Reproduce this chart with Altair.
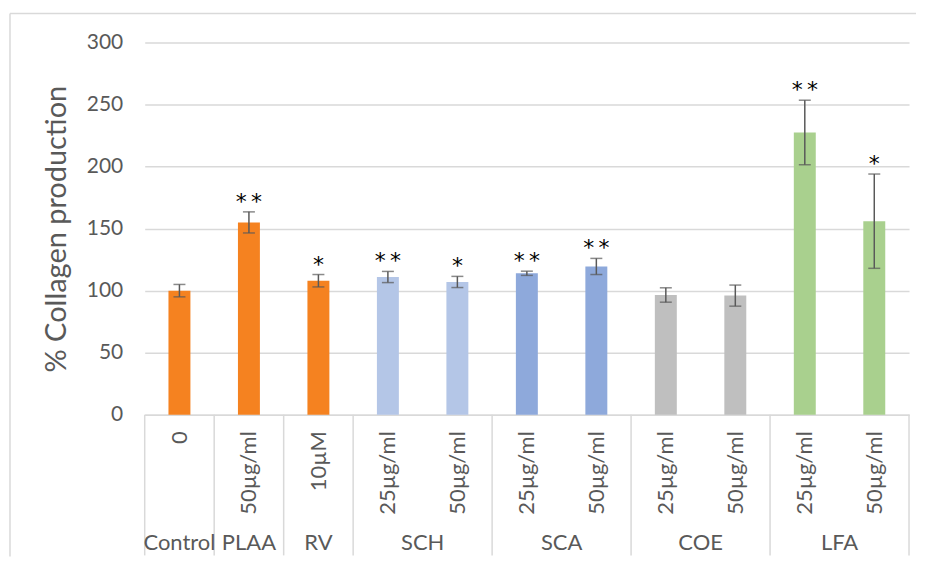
import json
import altair as alt
import pandas as pd

# ---- data ----
groups = ["Control", "PLAA", "RV", "SCH", "SCH", "SCA", "SCA", "COE", "COE", "LFA", "LFA"]
sublabels = ["0", "50µg/ml", "10µM", "25µg/ml", "50µg/ml", "25µg/ml", "50µg/ml",
             "25µg/ml", "50µg/ml", "25µg/ml", "50µg/ml"]
values = [100, 155, 108, 111, 107, 114, 119.5, 96.5, 96, 227.5, 156]
errors = [5, 8.5, 5, 4.5, 4.5, 1.7, 6.5, 5.8, 8.5, 26, 38]
stars = ["", "*\u2009*", "*", "*\u2009*", "*", "*\u2009*", "*\u2009*", "", "", "*\u2009*", "*"]
colors = ["#F58220", "#F58220", "#F58220", "#B4C6E7", "#B4C6E7", "#8EA9DB", "#8EA9DB",
          "#BFBFBF", "#BFBFBF", "#A9D08E", "#A9D08E"]
group_names = ["Control", "PLAA", "RV", "SCH", "SCA", "COE", "LFA"]
y_ticks = [0, 50, 100, 150, 200, 250, 300]

W, H = 766, 373
GRAY = "#595959"
LINE = "#D9D9D9"
FONT = "Lato"

n = len(values)
df = pd.DataFrame({
    "pos": [i + 0.5 for i in range(n)],
    "val": values,
    "lo": [v - e for v, e in zip(values, errors)],
    "hi": [v + e for v, e in zip(values, errors)],
    "star": stars,
    "color": colors,
})

gpos = {}
for i, g in enumerate(groups):
    gpos.setdefault(g, []).append(i)
gdf = pd.DataFrame({
    "pos": [(min(gpos[g]) + max(gpos[g]) + 1) / 2 for g in group_names],
    "name": group_names,
})
bounds = sorted({min(gpos[g]) for g in group_names} | {n})
bdf = pd.DataFrame({"pos": bounds})

xscale = alt.Scale(domain=[0, n], nice=False, zero=False, padding=0)
yscale = alt.Scale(domain=[0, 300], nice=False)

label_expr = json.dumps(sublabels) + "[floor(datum.value)]"

xaxis = alt.Axis(
    values=[i + 0.5 for i in range(n)], labelExpr=label_expr,
    labelAngle=270, labelAlign="right", labelBaseline="middle",
    labelPadding=16, ticks=False, tickSize=0, grid=False, title=None,
    domainColor=LINE, domainWidth=1.5, labelOverlap=False, labelFlush=False,
    labelFontSize=22, labelColor=GRAY, labelFont=FONT)
yaxis = alt.Axis(
    values=y_ticks, title="% Collagen production", ticks=False, tickSize=0,
    labelPadding=22, domain=False, gridColor=LINE, gridWidth=1.5,
    labelFontSize=21, labelColor=GRAY, labelFont=FONT,
    titleFontSize=29, titleColor=GRAY, titleFont=FONT,
    titleFontWeight="normal", titlePadding=15)


def X():
    return alt.X("pos:Q", scale=xscale, axis=xaxis)


def Y(f):
    return alt.Y(f, scale=yscale, axis=yaxis, title="% Collagen production")


bars = alt.Chart(df).mark_bar(size=22).encode(
    x=X(), y=Y("val:Q"), color=alt.Color("color:N", scale=None))

err = alt.Chart(df).mark_rule(color=GRAY, strokeWidth=1.5).encode(
    x=X(), y=Y("lo:Q"), y2="hi:Q")
cap_lo = alt.Chart(df).mark_tick(color=GRAY, orient="horizontal", size=12, thickness=1.5).encode(
    x=X(), y=Y("lo:Q"))
cap_hi = alt.Chart(df).mark_tick(color=GRAY, orient="horizontal", size=12, thickness=1.5).encode(
    x=X(), y=Y("hi:Q"))

star_txt = alt.Chart(df).mark_text(font="DejaVu Sans", fontSize=22, color="black",
                                   baseline="alphabetic", dy=-3).encode(
    x=X(), y=Y("hi:Q"), text="star:N")

seps = alt.Chart(bdf).mark_rule(color=LINE, strokeWidth=1.5).encode(
    x=X(), y=alt.value(H), y2=alt.value(514))

glabels = alt.Chart(gdf).mark_text(font=FONT, fontSize=22, color=GRAY, baseline="middle").encode(
    x=X(), y=alt.value(502), text="name:N")

one = pd.DataFrame({"a": [0]})
frame_top = alt.Chart(one).mark_rule(color=LINE, strokeWidth=1.5).encode(
    x=alt.value(-135), x2=alt.value(773), y=alt.value(-29))
frame_left = alt.Chart(one).mark_rule(color=LINE, strokeWidth=1.5).encode(
    x=alt.value(-135), y=alt.value(-29), y2=alt.value(515))

chart = alt.layer(bars, err, cap_lo, cap_hi, star_txt, seps, glabels, frame_top, frame_left).properties(
    width=W, height=H, padding={"left": 1, "top": 4, "right": 0, "bottom": 0},
    background="white",
).configure_view(stroke=None)

chart.save("out.html", embed_options={"renderer": "svg", "actions": False})
